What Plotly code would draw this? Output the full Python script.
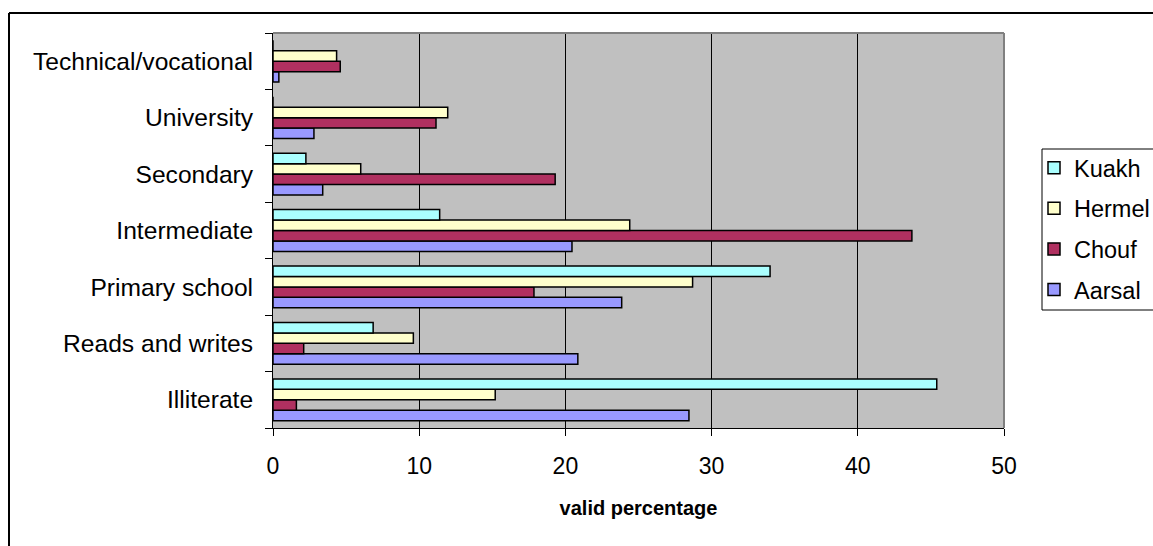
import plotly.graph_objects as go

# Education levels, bottom to top on the category axis
levels = ["Illiterate", "Reads and writes", "Primary school", "Intermediate",
          "Secondary", "University", "Technical/vocational"]

# Valid percentage per region, in the same order as `levels`
kuakh = [45.4, 6.85, 34.0, 11.4, 2.25, 0.0, 0.0]
hermel = [15.2, 9.6, 28.7, 24.4, 6.0, 11.95, 4.35]
chouf = [1.6, 2.1, 17.85, 43.7, 19.3, 11.15, 4.6]
aarsal = [28.45, 20.85, 23.85, 20.45, 3.4, 2.8, 0.4]

x_ticks = [0, 10, 20, 30, 40, 50]

W, H = 1153, 546
ML, MR, MT, MB = 273, 149, 33, 118

# Drawn bottom-up within each group: Aarsal lowest, Kuakh on top;
# legend lists them top-down (Kuakh first)
series = [
    ("Aarsal", aarsal, "#9999FF", 4),
    ("Chouf", chouf, "#B03060", 3),
    ("Hermel", hermel, "#FFFFCC", 2),
    ("Kuakh", kuakh, "#AAFFFF", 1),
]

fig = go.Figure()
for name, vals, color, rank in series:
    fig.add_trace(go.Bar(
        x=vals, y=levels, name=name, orientation="h",
        marker=dict(color=color, line=dict(color="black", width=1.5)),
        legendgroup=name, legendrank=rank,
    ))

pw = W - ML - MR
ph = H - MT - MB


def px_x(px):
    return (px - ML) / pw


def px_y(py):
    return (H - MB - py) / ph


LABEL_FONT = "Liberation Sans, Arial, sans-serif"

fig.update_layout(
    width=W, height=H,
    margin=dict(l=ML, r=MR, t=MT, b=MB, autoexpand=False),
    paper_bgcolor="white",
    plot_bgcolor="#C0C0C0",
    barmode="group",
    bargap=0.26,
    bargroupgap=0,
    font=dict(family=LABEL_FONT, color="black", size=23),
    showlegend=True,
    legend=dict(
        tracegroupgap=7,
        x=px_x(1034), y=px_y(146), xanchor="left", yanchor="top",
        borderwidth=0, bgcolor="rgba(0,0,0,0)",
        font=dict(size=23.5),
        itemwidth=30,
    ),
    xaxis=dict(
        range=[0, 50], tickvals=x_ticks, ticktext=[str(t) for t in x_ticks],
        showgrid=True, gridcolor="black", gridwidth=1,
        zeroline=False,
        showline=True, linecolor="black", linewidth=1,
        ticks="outside", ticklen=7, tickcolor="black",
        tickfont=dict(size=23),
        ticklabelstandoff=10,
        title=dict(text="<b>valid percentage</b>",
                   font=dict(size=20),
                   standoff=23),
        fixedrange=True,
    ),
    yaxis=dict(
        type="category", categoryorder="array", categoryarray=levels,
        showgrid=False, zeroline=False,
        showline=True, linecolor="black", linewidth=1,
        ticks="outside", ticklen=7, tickcolor="black",
        tickson="boundaries",
        tickfont=dict(size=24.6),
        ticklabelstandoff=14,
        fixedrange=True,
    ),
    shapes=[
        # gray frame on top and right of the plotting area
        dict(type="line", xref="paper", yref="paper", x0=0, x1=1, y0=1, y1=1,
             line=dict(color="#808080", width=2), layer="above"),
        dict(type="line", xref="paper", yref="paper", x0=1, x1=1, y0=0, y1=1,
             line=dict(color="#808080", width=2), layer="above"),
        # legend frame
        dict(type="rect", xref="paper", yref="paper",
             x0=px_x(1042), x1=px_x(W + 5), y0=px_y(310), y1=px_y(149),
             line=dict(color="black", width=1), fillcolor="white", layer="below"),
        # outer chart border (top and left edges)
        dict(type="line", xref="paper", yref="paper",
             x0=px_x(9), x1=px_x(W + 5), y0=px_y(13), y1=px_y(13),
             line=dict(color="black", width=2)),
        dict(type="line", xref="paper", yref="paper",
             x0=px_x(9), x1=px_x(9), y0=px_y(13), y1=px_y(H + 5),
             line=dict(color="black", width=2)),
    ],
)

fig.write_html("out.html")
